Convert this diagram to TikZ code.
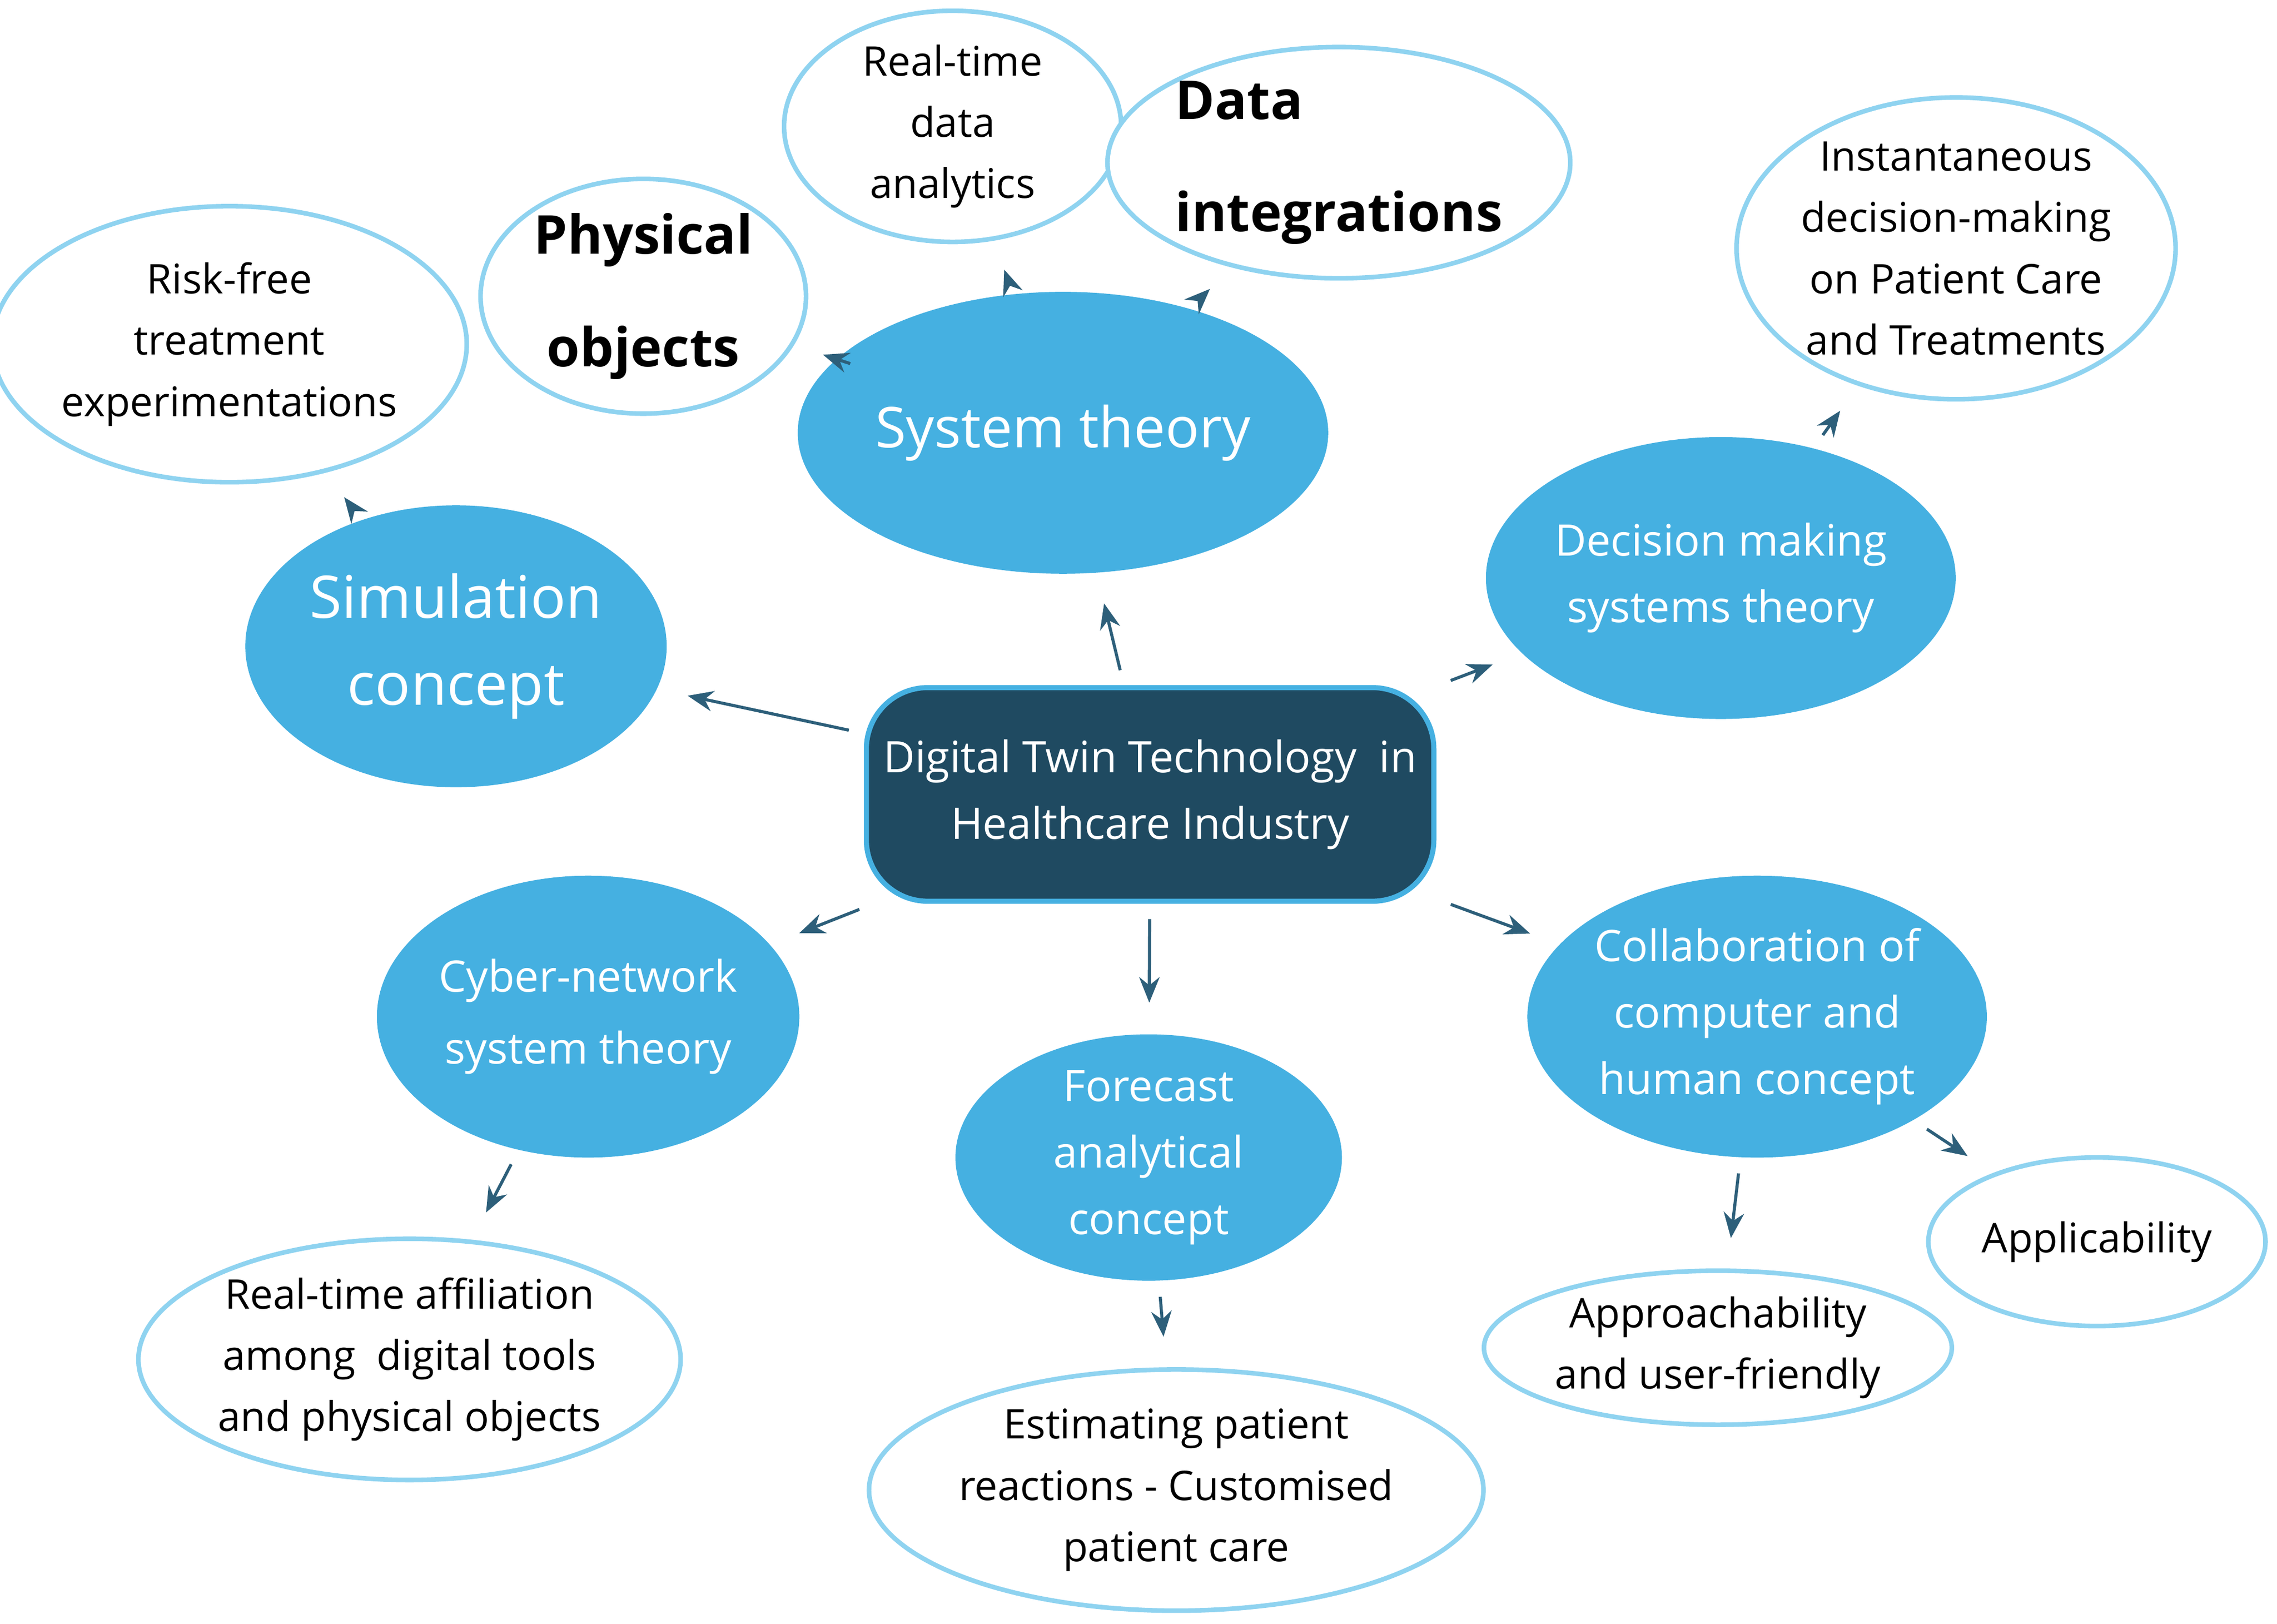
\documentclass[tikz,border=0pt]{standalone}
\usepackage{fontspec}
\setmainfont{Open Sans}
\usetikzlibrary{shapes.geometric,arrows.meta}
\definecolor{hubblue}{HTML}{1F4A61}
\definecolor{midblue}{HTML}{45B0E1}
\definecolor{rimblue}{HTML}{8FD3F0}
\definecolor{arrowblue}{HTML}{2D5F7A}
\tikzset{
  theory/.style={ellipse,fill=midblue,text=white,align=center,inner sep=0pt},
  leaf/.style={ellipse,draw=rimblue,line width=0.9pt,fill=white,align=center,inner sep=0pt,font=\fontsize{8}{12}\selectfont},
  link/.style={-{Stealth[length=5pt,width=4pt]},arrowblue,line width=0.6pt,shorten <=3pt,shorten >=6pt}
}
\begin{document}
\begin{tikzpicture}[x=0.01cm,y=-0.01cm]
\useasboundingbox (0,0) rectangle (1568,1118);
% hub
\node[draw=midblue,line width=1pt,fill=hubblue,text=white,rounded corners=12pt,
  minimum width=340\pgflinewidth*0+3.4cm,minimum height=1.47cm,align=center,
  font=\fontsize{8.5}{13}\selectfont] (hub) at (792,547)
  {Digital Twin Technology\ \ in\\Healthcare Industry};
% theories
\node[theory,minimum width=2.9cm,minimum height=1.94cm,font=\fontsize{11}{15}\selectfont] (sys) at (732,298) {System theory};
\node[theory,minimum width=2.9cm,minimum height=1.94cm,font=\fontsize{11.5}{17}\selectfont] (sim) at (314,445) {Simulation\\concept};
\node[theory,minimum width=2.86cm,minimum height=1.94cm,font=\fontsize{8.5}{13}\selectfont] (dec) at (1185,398) {Decision making\\systems theory};
\node[theory,minimum width=2.9cm,minimum height=1.94cm,font=\fontsize{8.5}{14}\selectfont] (cyb) at (405,700) {Cyber-network\\system theory};
\node[theory,minimum width=2.66cm,minimum height=1.64cm,font=\fontsize{8.5}{13}\selectfont] (fore) at (791,797) {Forecast\\analytical\\concept};
\node[theory,minimum width=2.9cm,minimum height=1.94cm,font=\fontsize{8.5}{13}\selectfont] (col) at (1210,700) {Collaboration of\\computer and\\human concept};
% leaves
\node[leaf,minimum width=2.96cm,minimum height=1.9cm] (risk) at (158,237) {Risk-free\\treatment\\experimentations};
\node[leaf,minimum width=2.24cm,minimum height=1.36cm,font=\bfseries\fontsize{10.5}{22}\selectfont] (phys) at (443,204) {Physical\\objects};
\node[leaf,minimum width=2.32cm,minimum height=1.52cm] (rta) at (656,87) {Real-time\\data\\analytics};
\node[leaf,minimum width=2.24cm,minimum height=1.36cm,font=\bfseries\fontsize{10.5}{22}\selectfont,align=left] (dint) at (922,112) {Data\\integrations};
\node[leaf,minimum width=2.92cm,minimum height=1.94cm] (inst) at (1347,171) {Instantaneous\\decision-making\\on Patient Care\\and Treatments};
\node[leaf,minimum width=2.32cm,minimum height=1.16cm] (appl) at (1444,855) {Applicability};
\node[leaf,minimum width=3.22cm,minimum height=1.06cm] (appr) at (1183,928) {Approachability\\and user-friendly};
\node[leaf,minimum width=3.86cm,minimum height=1.66cm] (est) at (810,1026) {Estimating patient\\reactions - Customised\\patient care};
\node[leaf,minimum width=3.48cm,minimum height=1.66cm] (aff) at (282,936) {Real-time affiliation\\among\ \ digital tools\\and physical objects};
% links
\draw[link] (hub) -- (sys);
\draw[link] (hub) -- (sim);
\draw[link] (hub) -- (dec);
\draw[link] (hub) -- (cyb);
\draw[link] (hub) -- (fore);
\draw[link] (hub) -- (col);
\draw[link] (sim) -- (risk);
\draw[link] (sys) -- (phys);
\draw[link] (sys) -- (rta);
\draw[link] (sys) -- (dint);
\draw[link] (dec) -- (inst);
\draw[link] (col) -- (appl);
\draw[link] (col) -- (appr);
\draw[link] (fore) -- (est);
\draw[link] (cyb) -- (aff);
\end{tikzpicture}
\end{document}
